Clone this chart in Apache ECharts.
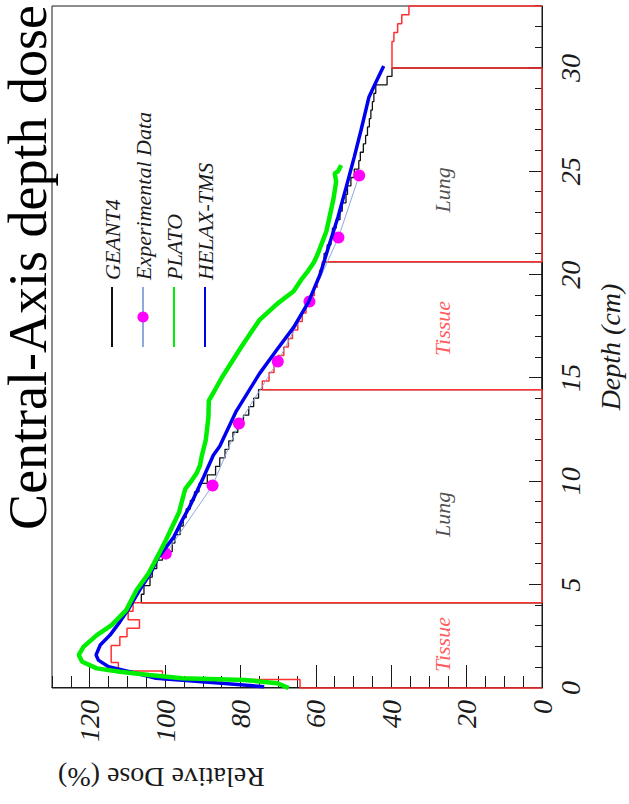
<!DOCTYPE html>
<html>
<head>
<meta charset="utf-8">
<script src="https://cdn.jsdelivr.net/npm/echarts@6/dist/echarts.min.js"></script>
<style>
  html, body { margin: 0; padding: 0; background: #fff; overflow: hidden; }
  /* chart is drawn in its own landscape frame, then turned a quarter turn left */
  #chart {
    position: absolute; left: 0; top: 0;
    width: 804px; height: 629px;
    transform-origin: 0 0;
    transform: translate(0, 804px) rotate(-90deg);
  }
</style>
</head>
<body>
<div id="chart"></div>
<script>
// region boundaries along depth (cm): tissue | lung | tissue | lung | tissue
var regionBounds = [0, 4.125, 14.4375, 20.625, 30, 33];

// GEANT4 histograms, dose (%) per bin, bins split each region evenly
var tissue1Dose = [64.2, 100.7, 112.4, 114.3, 114.3, 112, 110.1, 106.8, 109.8, 108.5];
var lung1Dose = [106.3, 105.6, 104, 103.4, 102.2, 100.7, 98.1, 97.4, 96, 95.2, 94.4, 93.3, 92.2,
  91, 88.8, 86.6, 85.5, 84.1, 83.1, 82, 80.7, 79.2, 77.8, 76.5, 75.2];
var tissue2Dose = [74.2, 72.4, 71.1, 70.0, 68.5, 67.3, 66.2, 64.8, 63.6, 62.6, 61.4, 60.4, 59.6, 59.0, 58.3];
var lung2Dose = [57.8, 57.0, 56.0, 55.6, 54.6, 53.6, 53.0, 52.0, 51.6, 50.7, 49.8, 48.6, 48.2, 47.4,
  46.8, 46.3, 45.8, 45.4, 45.0, 44.6, 44.1, 41.1, 39.8];
var tissue3Dose = [39.8, 39.8, 39.8, 39.3, 38.3, 37.2, 35.3];

// measured points
var expDepth = [6.5, 9.8, 12.8, 15.8, 18.7, 21.8, 24.8];
var expDose = [99.8, 87.4, 80.4, 70.1, 61.7, 54.0, 48.5];

// PLATO
var platoDepth = [0, 0.23, 0.39, 0.47, 0.63, 0.79, 0.95, 1.27, 1.6, 2.0, 2.56, 3.04, 3.77, 4.73, 5.54,
  6.5, 7.15, 7.8, 8.5, 9.4, 9.65, 10.05, 10.4, 10.8, 11.2, 12.0, 13.1, 13.9, 14.15, 15.0, 16.5, 17.8,
  18.6, 19.2, 19.8, 20.2, 20.6, 21.0, 22.1, 23.6, 24.5, 24.9, 25.0, 25.3];
var platoDose = [67.2, 70.2, 78.9, 95.5, 104.2, 112, 118.1, 122, 122.9, 121.6, 118.1, 114.2, 110.3, 107.6, 104.4,
  101.6, 99.8, 98.1, 96.3, 95.0, 94.6, 92.9, 91.6, 90.7, 90.3, 89.2, 88.5, 88.4, 87.6, 85, 79.8, 75,
  70.2, 65.9, 63.7, 62, 60.5, 59.5, 57.2, 55.4, 54.6, 55, 54.1, 53.3];

// HELAX-TMS
var helaxDepth = [0.06, 0.23, 0.47, 0.79, 1.03, 1.35, 1.6, 2.08, 2.56, 3.2, 3.85, 4.73, 5.6, 6.27, 7.3,
  8.1, 8.84, 10.2, 11.26, 11.7, 13.4, 15.2, 16.4, 17.45, 18.66, 20.0, 21.3, 22.8, 24.2, 25.7, 27.0,
  28.6, 29.3, 30.1];
var helaxDose = [73.7, 85, 102.4, 109.4, 115, 117.7, 118.3, 117.2, 114.6, 112, 109.6, 106.8, 103.7, 102, 97.7,
  95.5, 93.3, 89.8, 87.2, 85.5, 81.1, 75, 70.2, 65.9, 62.0, 58.9, 56.7, 54.1, 52.0, 49.8, 48.0,
  45.9, 44.1, 42.0];

// material labels inside the plot
var regionNames = ['Tissue', 'Lung', 'Tissue', 'Lung'];
var regionNameDepth = [2.1, 8.4, 17.4, 24.1];
var regionNameDose = [26.5, 26.5, 26.5, 26.5];

var legendNames = ['GEANT4', 'Experimental Data', 'PLATO', 'HELAX-TMS'];

function zip(a, b) {
  return a.map(function(v, i) { return [v, b[i]]; });
}

// outline of a histogram made of several regions, dropping to 0 at each region edge
function histOutline(parts) {
  var pts = [];
  parts.forEach(function(p) {
    var from = p[0], to = p[1], vals = p[2];
    var w = (to - from) / vals.length;
    pts.push([from, 0]);
    vals.forEach(function(v, i) {
      pts.push([from + i * w, v]);
      pts.push([from + (i + 1) * w, v]);
    });
    pts.push([to, 0]);
  });
  return pts;
}

var serif = 'Liberation Serif';
var ink = '#1a1a1a';
var noDot = { color: 'rgba(0,0,0,0)', borderWidth: 0 };

var chart = echarts.init(document.getElementById('chart'), null, { renderer: 'svg' });

chart.setOption({
  animation: false,
  backgroundColor: '#fff',
  grid: {
    left: 116, right: 6, top: 52, bottom: 80,
    show: true, borderColor: ink, borderWidth: 1, backgroundColor: 'transparent'
  },
  legend: {
    data: legendNames.map(function(n) {
      return n === 'Experimental Data' ? { name: n } : { name: n, itemStyle: noDot };
    }),
    orient: 'vertical',
    left: 451, top: 96,
    itemWidth: 60, itemHeight: 14, itemGap: 9,
    textStyle: { fontFamily: serif, fontStyle: 'italic', fontSize: 22, color: ink, padding: [0, 0, 0, 2] }
  },
  xAxis: [
    {
      type: 'value', min: 0, max: 33, interval: 5,
      position: 'bottom',
      name: 'Depth (cm)', nameLocation: 'middle', nameGap: 54,
      nameTextStyle: { fontFamily: serif, fontStyle: 'italic', fontSize: 28, color: ink },
      axisLine: { show: true, onZero: false, lineStyle: { color: ink, width: 1 } },
      axisTick: { inside: true, length: 13, lineStyle: { color: ink } },
      axisLabel: { margin: 14, showMaxLabel: false, fontFamily: serif, fontStyle: 'italic', fontSize: 28, color: ink },
      splitLine: { show: false }
    },
    {
      type: 'value', min: 0, max: 33, interval: 1,
      position: 'bottom',
      axisLine: { show: false, onZero: false },
      axisTick: { inside: true, length: 7, lineStyle: { color: ink } },
      axisLabel: { show: false },
      splitLine: { show: false }
    }
  ],
  yAxis: [
    {
      type: 'value', min: 0, max: 130, interval: 20,
      position: 'left',
      axisLine: { show: true, onZero: false, lineStyle: { color: ink, width: 1 } },
      axisTick: { inside: true, length: 23, lineStyle: { color: ink } },
      axisLabel: { margin: 12, showMaxLabel: false, fontFamily: serif, fontStyle: 'italic', fontSize: 28, color: ink },
      splitLine: { show: false }
    },
    {
      type: 'value', min: 0, max: 130, interval: 5,
      position: 'left',
      axisLine: { show: false, onZero: false },
      axisTick: { inside: true, length: 12, lineStyle: { color: ink } },
      axisLabel: { show: false },
      splitLine: { show: false }
    }
  ],
  graphic: [
    {
      type: 'text', right: 5, top: 1,
      style: { text: 'Central-Axis depth dose', fontFamily: serif, fontSize: 54, fill: '#000' }
    },
    {
      type: 'text', x: 27, y: 58, rotation: Math.PI / 2,
      style: {
        text: 'Relative Dose (%)', fontFamily: serif, fontSize: 28, fill: ink,
        align: 'right', verticalAlign: 'middle'
      }
    }
  ],
  series: [
    {
      name: 'GEANT4', type: 'line', clip: false, symbol: 'none', z: 2,
      lineStyle: { color: '#111', width: 1.3 }, itemStyle: { color: '#111' },
      data: histOutline([
        [regionBounds[1], regionBounds[2], lung1Dose],
        [regionBounds[3], regionBounds[4], lung2Dose]
      ])
    },
    {
      name: 'GEANT4 tissue', type: 'line', clip: false, symbol: 'none', z: 3,
      lineStyle: { color: '#ff3030', width: 1.5 },
      data: histOutline([
        [regionBounds[0], regionBounds[1], tissue1Dose],
        [regionBounds[2], regionBounds[3], tissue2Dose],
        [regionBounds[4], regionBounds[5], tissue3Dose]
      ])
    },
    {
      name: 'Experimental Data', type: 'line', z: 4,
      symbol: 'circle', symbolSize: 12,
      itemStyle: { color: '#ff00ff' },
      lineStyle: { color: '#8ea9dc', width: 1 },
      data: zip(expDepth, expDose)
    },
    {
      name: 'HELAX-TMS', type: 'line', symbol: 'none', z: 5,
      lineStyle: { color: '#0000f0', width: 3.5 }, itemStyle: { color: '#0000f0' },
      data: zip(helaxDepth, helaxDose)
    },
    {
      name: 'PLATO', type: 'line', symbol: 'none', z: 6,
      lineStyle: { color: '#00ee00', width: 4.5 }, itemStyle: { color: '#00ee00' },
      data: zip(platoDepth, platoDose)
    },
    {
      name: 'regions', type: 'scatter', symbolSize: 1, z: 7, silent: true,
      itemStyle: { color: 'rgba(0,0,0,0)' },
      label: {
        show: true, position: 'inside', formatter: '{b}',
        fontFamily: serif, fontStyle: 'italic', fontSize: 22
      },
      data: regionNames.map(function(n, i) {
        return {
          name: n,
          value: [regionNameDepth[i], regionNameDose[i]],
          label: { color: n === 'Tissue' ? '#ff3030' : '#222' }
        };
      })
    }
  ]
});
</script>
</body>
</html>
